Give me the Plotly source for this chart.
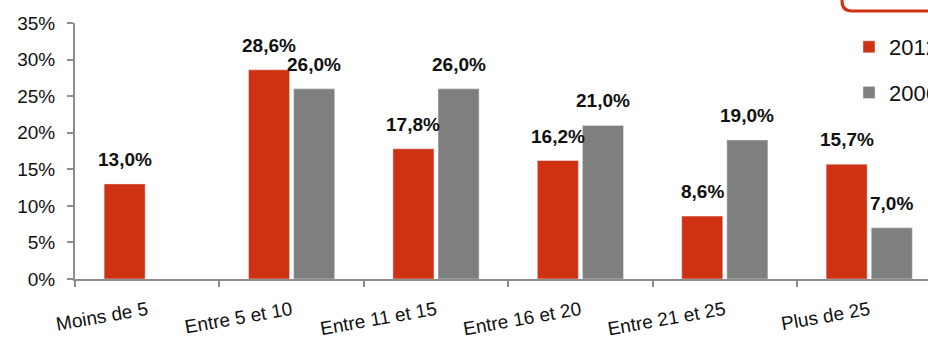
import plotly.graph_objects as go

categories = ["Moins de 5", "Entre 5 et 10", "Entre 11 et 15",
              "Entre 16 et 20", "Entre 21 et 25", "Plus de 25"]
values_2012 = [13.0, 28.6, 17.8, 16.2, 8.6, 15.7]
values_2006 = [None, 26.0, 26.0, 21.0, 19.0, 7.0]
y_ticks = [0, 5, 10, 15, 20, 25, 30, 35]

RED = "#CF3213"
GREY = "#7F7F7F"
AXIS = "#8C8C8C"
FONT = "Liberation Sans, Arial, sans-serif"

W, H = 928, 340
ML, MR, MT, MB = 75, 0, 23, 61
pw, ph = W - ML - MR, H - MT - MB
cat_px = 144.4  # width of one category in pixels


def px_x(x):
    # pixel -> paper fraction
    return (x - ML) / pw


def px_y(y):
    return (H - MB - y) / ph


fig = go.Figure()
fig.add_trace(go.Bar(x=categories, y=values_2012, name="2012",
                     marker_color=RED, legendgroup="a"))
fig.add_trace(go.Bar(x=categories, y=values_2006, name="2006",
                     marker_color=GREY, legendgroup="b"))

# value labels above each bar
bargap, groupgap = 0.375, 0.09
offset = (1 - bargap) / 4
for i, (a, b) in enumerate(zip(values_2012, values_2006)):
    for v, dx in ((a, -offset), (b, offset)):
        if v is None:
            continue
        fig.add_annotation(x=i + dx, y=v, text=f"<b>{v:.1f}%</b>".replace(".", ","),
                           showarrow=False, yanchor="bottom", yshift=12,
                           font=dict(size=19, color="#111111", family=FONT))

# red rounded frame partly visible top right
r = 10
x0, y1 = 842, 11
path = (f"M {px_x(x0)},{px_y(-10)} L {px_x(x0)},{px_y(y1 - r)} "
        f"Q {px_x(x0)},{px_y(y1)} {px_x(x0 + r)},{px_y(y1)} "
        f"L {px_x(940)},{px_y(y1)}")
fig.add_shape(type="path", path=path, xref="paper", yref="paper",
              line=dict(color=RED, width=3))

fig.update_layout(
    width=W, height=H,
    margin=dict(l=ML, r=MR, t=MT, b=MB, autoexpand=False),
    plot_bgcolor="white", paper_bgcolor="white",
    barmode="group", bargap=bargap, bargroupgap=groupgap,
    font=dict(family=FONT, size=19, color="#111111"),
    showlegend=True,
    legend=dict(x=px_x(849), y=px_y(26), xanchor="left", yanchor="top",
                tracegroupgap=14, font=dict(size=22),
                bgcolor="rgba(0,0,0,0)"),
)
fig.update_xaxes(
    type="category", range=[-0.5, -0.5 + pw / cat_px],
    showline=True, linecolor=AXIS, linewidth=2,
    ticks="outside", tickson="boundaries", ticklen=6, tickcolor=AXIS, tickwidth=2,
    tickangle=-10, ticklabelstandoff=11, automargin=False,
    tickfont=dict(size=19, family=FONT, color="#111111"),
    showgrid=False,
)
fig.update_yaxes(
    range=[0, 35], tickvals=y_ticks, ticktext=[f"{t}%" for t in y_ticks],
    showline=True, linecolor=AXIS, linewidth=2,
    ticks="outside", ticklen=6, tickcolor=AXIS, tickwidth=2,
    ticklabelstandoff=8, automargin=False,
    tickfont=dict(size=19, family=FONT, color="#111111"),
    showgrid=False, zeroline=False,
)

# drop the default page margin so the figure fills the window
fig.write_html("out.html",
               config={"displayModeBar": False},
               post_script="document.body.style.margin='0';"
                           "document.body.style.overflow='hidden';")
